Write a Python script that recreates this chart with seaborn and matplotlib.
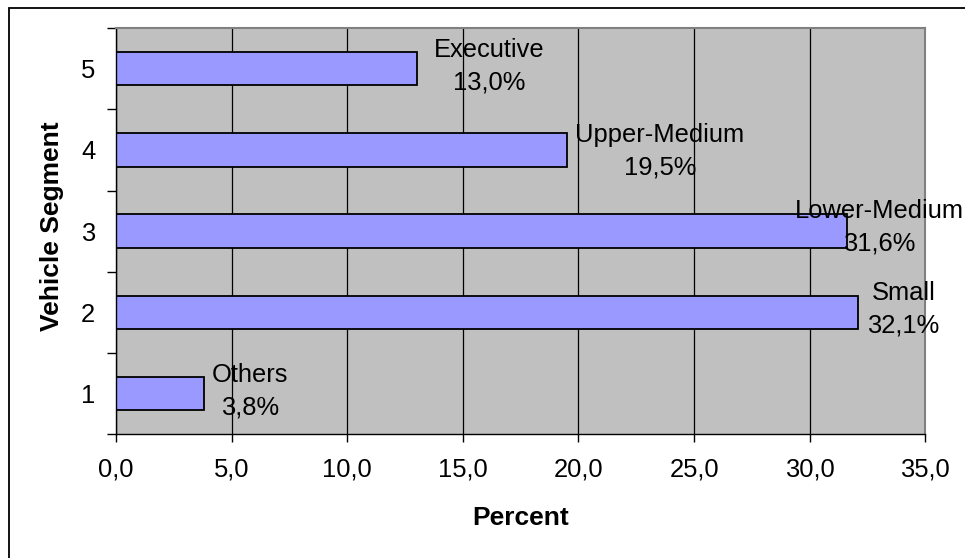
import matplotlib
matplotlib.use("Agg")
import matplotlib.pyplot as plt
import seaborn as sns
import pandas as pd
from matplotlib.patches import Rectangle
from matplotlib.ticker import FixedLocator, FuncFormatter

# ---- data ----
segments = [1, 2, 3, 4, 5]
percent = [3.8, 32.1, 31.6, 19.5, 13.0]
names = ["Others", "Small", "Lower-Medium", "Upper-Medium", "Executive"]
x_ticks = [0, 5, 10, 15, 20, 25, 30, 35]

# label offsets (points) relative to bar end (style only)
label_dx = [33, 32.5, 23.5, 67, 52]
label_dy = [2, 2, 2.5, -1, 2]

sns.set_theme(style="white")
plt.rcParams["font.family"] = ["Liberation Sans", "DejaVu Sans"]

df = pd.DataFrame({"segment": segments, "percent": percent})

fig = plt.figure(figsize=(9.65, 5.58), dpi=100)
fig.patch.set_facecolor("white")
ax = fig.add_axes([116 / 965, 1 - 434.3 / 558, (925.3 - 116) / 965, (434.3 - 28) / 558])

sns.barplot(data=df, x="percent", y="segment", orient="h", native_scale=True,
            color="#9999FF", saturation=1, width=0.41, edgecolor="black",
            linewidth=1.3, ax=ax, errorbar=None)

ax.set_facecolor("#C0C0C0")
ax.set_xlim(0, 35)
ax.set_ylim(0.5, 5.5)

# gridlines
ax.set_axisbelow(True)
ax.xaxis.grid(True, color="black", linewidth=0.9)
ax.yaxis.grid(False)

# spines
for s in ["top", "right"]:
    ax.spines[s].set_color("#808080")
    ax.spines[s].set_linewidth(1.5)
for s in ["left", "bottom"]:
    ax.spines[s].set_color("black")
    ax.spines[s].set_linewidth(1.0)

# ticks
ax.xaxis.set_major_locator(FixedLocator(x_ticks))
ax.xaxis.set_major_formatter(FuncFormatter(lambda v, p: f"{v:.1f}".replace(".", ",")))
ax.tick_params(axis="x", which="major", direction="out", length=6, width=1,
               color="black", pad=11, labelsize=18.4, bottom=True)

ax.yaxis.set_major_locator(FixedLocator(segments))
ax.yaxis.set_major_formatter(FuncFormatter(lambda v, p: f"{int(round(v))}"))
ax.yaxis.set_minor_locator(FixedLocator([0.5, 1.5, 2.5, 3.5, 4.5, 5.5]))
ax.tick_params(axis="y", which="major", length=0, pad=15, labelsize=18.4, left=True)
ax.tick_params(axis="y", which="minor", direction="out", length=6.5, width=1,
               color="black", left=True)

for lab in ax.get_xticklabels() + ax.get_yticklabels():
    lab.set_color("black")

# axis labels
ax.set_xlabel("Percent", fontsize=19, fontweight="bold", color="black", va="center")
ax.xaxis.set_label_coords(0.5, -0.205)
ax.set_ylabel("Vehicle Segment", fontsize=19, fontweight="bold", color="black", va="center")
ax.yaxis.set_label_coords(-0.079, 0.513)

# data labels
for seg, val, nm, dx, dy in zip(segments, percent, names, label_dx, label_dy):
    ax.annotate(f"{nm}\n{val:.1f}%".replace(".", ","), xy=(val, seg),
                xytext=(dx, dy), textcoords="offset points",
                ha="center", va="center", multialignment="center",
                fontsize=18.4, color="black", linespacing=1.45,
                annotation_clip=False)

# figure frame
fig.add_artist(Rectangle((9 / 965, -0.1), 2, 1 - 8 / 558 + 0.1,
                         transform=fig.transFigure, fill=False,
                         edgecolor="black", linewidth=1.3, clip_on=False))

fig.savefig("out.png", dpi=100, facecolor="white")
